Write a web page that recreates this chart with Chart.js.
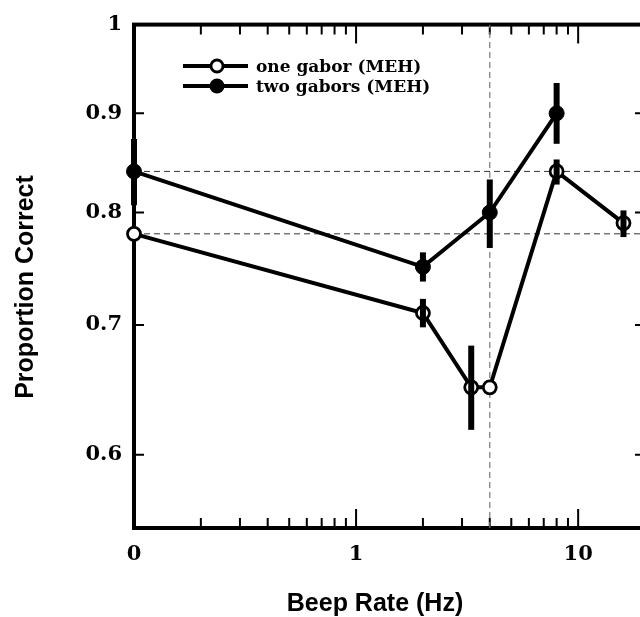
<!DOCTYPE html>
<html>
<head>
<meta charset="utf-8">
<script src="https://cdn.jsdelivr.net/npm/chart.js@4.4.1/dist/chart.umd.min.js"></script>
<style>
  html, body { margin: 0; padding: 0; background: #fff; overflow: hidden; }
  #wrap { width: 660px; height: 617px; }
</style>
</head>
<body>
<div id="wrap"><canvas id="beepChart" width="660" height="617"></canvas></div>
<script>
// beep rate (Hz); the "0" condition sits at 0.1 on the log axis
const oneX = [0.1, 2, 3.3, 4, 8, 16];
const oneY = [0.78, 0.71, 0.65, 0.65, 0.84, 0.79];
const oneLo = [null, 0.698, 0.618, null, 0.827, 0.777];
const oneHi = [null, 0.722, 0.683, null, 0.852, 0.802];

const twoX = [0.1, 2, 4, 8];
const twoY = [0.84, 0.75, 0.80, 0.90];
const twoLo = [0.807, 0.737, 0.767, 0.868];
const twoHi = [0.873, 0.763, 0.832, 0.933];

const seriesNames = ['one gabor (MEH)', 'two gabors (MEH)'];

const refY = [0.84, 0.78];
const refX = [4];

const xLabelTicks = [0.1, 1, 10];
const xTickText = ['0', '1', '10'];
const xMinorTicks = [0.2, 0.3, 0.4, 0.5, 0.6, 0.7, 0.8, 0.9, 1, 2, 3, 4, 5, 6, 7, 8, 9, 10, 20];
const yTicks = [0.6, 0.7, 0.8, 0.9, 1];
const yTickText = ['0.6', '0.7', '0.8', '0.9', '1'];

const xMin = 0.1, xMax = 20, yMin = 0.55, yMax = 1;

const pts = (xs, ys) => xs.map((v, i) => ({ x: v, y: ys[i] }));

const datasets = [
  {
    label: seriesNames[0],
    data: pts(oneX, oneY),
    showLine: true,
    borderColor: '#000',
    borderWidth: 4,
    pointRadius: 6.5,
    pointBorderWidth: 2.8,
    pointBorderColor: '#000',
    pointBackgroundColor: '#fff',
    clip: false,
    order: 1
  },
  {
    label: seriesNames[1],
    data: pts(twoX, twoY),
    showLine: true,
    borderColor: '#000',
    borderWidth: 4,
    pointRadius: 7.5,
    pointBorderWidth: 1,
    pointBorderColor: '#000',
    pointBackgroundColor: '#000',
    clip: false,
    order: 1
  }
];

refY.forEach(v => datasets.push({
  data: [{ x: xMin, y: v }, { x: xMax, y: v }],
  showLine: true, borderColor: '#333', borderWidth: 1, borderDash: [6, 4],
  pointRadius: 0, order: 3
}));
refX.forEach(v => datasets.push({
  data: [{ x: v, y: yMin }, { x: v, y: yMax }],
  showLine: true, borderColor: '#777', borderWidth: 1.2, borderDash: [6, 4],
  pointRadius: 0, order: 3
}));

const serif = '"DejaVu Serif", serif';
const sans = '"Liberation Sans", Arial, sans-serif';

const frame = {
  id: 'frame',
  beforeDatasetsDraw(chart) {
    const { ctx, chartArea: a, scales: { x, y } } = chart;
    ctx.save();
    ctx.strokeStyle = '#000';
    ctx.lineWidth = 2;
    ctx.beginPath();
    xMinorTicks.forEach(v => {
      const px = x.getPixelForValue(v);
      const len = xLabelTicks.includes(v) ? 19 : 10;
      ctx.moveTo(px, a.bottom); ctx.lineTo(px, a.bottom - len);
      ctx.moveTo(px, a.top); ctx.lineTo(px, a.top + len);
    });
    yTicks.forEach(v => {
      const py = y.getPixelForValue(v);
      ctx.moveTo(a.left, py); ctx.lineTo(a.left + 10, py);
      ctx.moveTo(a.right, py); ctx.lineTo(a.right - 10, py);
    });
    ctx.stroke();
    ctx.lineWidth = 4;
    ctx.strokeRect(a.left, a.top, a.right - a.left, a.bottom - a.top);
    ctx.restore();
  },
  afterDatasetsDraw(chart) {
    const { ctx, scales: { x, y } } = chart;
    ctx.save();
    ctx.strokeStyle = '#000';
    ctx.lineWidth = 6;
    ctx.lineCap = 'butt';
    const bars = (xs, lo, hi) => xs.forEach((v, i) => {
      if (lo[i] == null) return;
      const px = x.getPixelForValue(v);
      ctx.beginPath();
      ctx.moveTo(px, y.getPixelForValue(lo[i]));
      ctx.lineTo(px, y.getPixelForValue(hi[i]));
      ctx.stroke();
    });
    bars(oneX, oneLo, oneHi);
    bars(twoX, twoLo, twoHi);
    ctx.restore();
  },
  afterDraw(chart) {
    const { ctx } = chart;
    ctx.save();
    // legend
    const rows = [66, 86];
    rows.forEach((ly, i) => {
      ctx.strokeStyle = '#000';
      ctx.lineWidth = 4;
      ctx.beginPath();
      ctx.moveTo(183, ly); ctx.lineTo(248, ly);
      ctx.stroke();
      ctx.beginPath();
      if (i === 0) {
        ctx.arc(217, ly, 6, 0, Math.PI * 2);
        ctx.fillStyle = '#fff';
        ctx.fill();
        ctx.lineWidth = 2.8;
        ctx.stroke();
      } else {
        ctx.arc(217, ly, 7.5, 0, Math.PI * 2);
        ctx.fillStyle = '#000';
        ctx.fill();
      }
      ctx.fillStyle = '#000';
      ctx.font = 'bold 17px ' + serif;
      ctx.textBaseline = 'middle';
      ctx.textAlign = 'left';
      ctx.fillText(seriesNames[i], 256, ly + 2);
    });
    // axis titles
    ctx.fillStyle = '#000';
    ctx.font = 'bold 25px ' + sans;
    ctx.textAlign = 'center';
    ctx.textBaseline = 'alphabetic';
    ctx.fillText('Beep Rate (Hz)', 375, 611);
    ctx.translate(33, 287);
    ctx.rotate(-Math.PI / 2);
    ctx.fillText('Proportion Correct', 0, 0);
    ctx.restore();
  }
};

new Chart(document.getElementById('beepChart'), {
  type: 'scatter',
  data: { datasets },
  options: {
    responsive: false,
    animation: false,
    layout: { padding: { top: 15, right: 15, left: 0, bottom: 0 } },
    plugins: { legend: { display: false }, tooltip: { enabled: false } },
    scales: {
      x: {
        type: 'logarithmic',
        min: xMin,
        max: xMax,
        grid: { display: false, drawTicks: false },
        border: { display: false },
        afterBuildTicks: s => { s.ticks = xLabelTicks.map(v => ({ value: v })); },
        afterFit: s => { s.height = 89; },
        ticks: {
          autoSkip: false,
          maxRotation: 0,
          padding: 14,
          color: '#000',
          font: { family: serif, size: 21, weight: 'bold' },
          callback: (v, i) => xTickText[i]
        }
      },
      y: {
        type: 'logarithmic',
        min: yMin,
        max: yMax,
        grid: { display: false, drawTicks: false },
        border: { display: false },
        afterBuildTicks: s => { s.ticks = yTicks.map(v => ({ value: v })); },
        afterFit: s => { s.width = 134; },
        ticks: {
          autoSkip: false,
          padding: 12,
          color: '#000',
          font: { family: serif, size: 21, weight: 'bold' },
          callback: (v, i) => yTickText[i]
        }
      }
    }
  },
  plugins: [frame]
});
</script>
</body>
</html>
